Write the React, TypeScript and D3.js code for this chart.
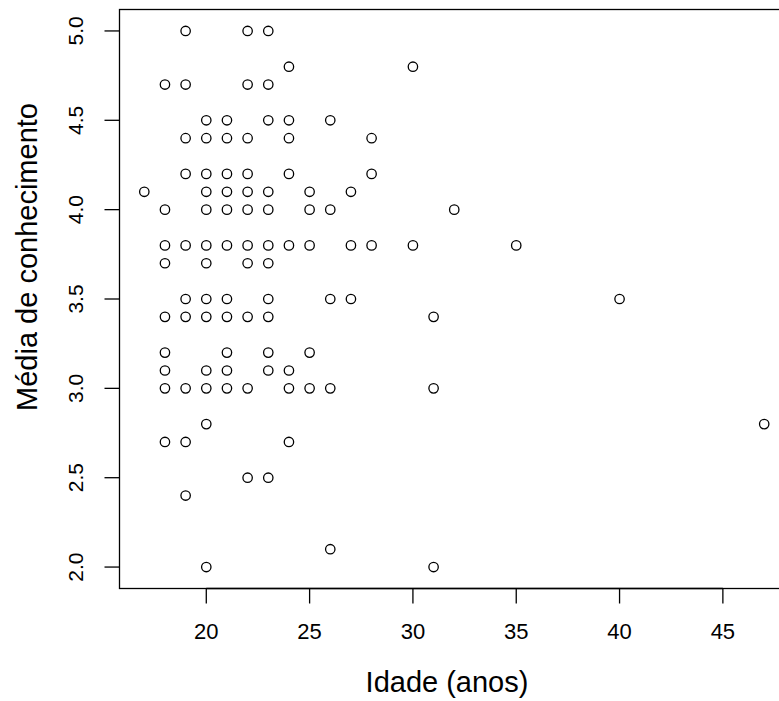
import React from "react";
import * as d3 from "d3";

const ages: number[] = [
  19, 22, 23,
  24, 30,
  18, 19, 22, 23,
  20, 21, 23, 24, 26,
  19, 20, 21, 22, 24, 28,
  19, 20, 21, 22, 24, 28,
  17, 20, 21, 22, 23, 25, 27,
  18, 20, 21, 22, 23, 25, 26, 32,
  18, 19, 20, 21, 22, 23, 24, 25, 27, 28, 30, 35,
  18, 20, 22, 23,
  19, 20, 21, 23, 26, 27, 40,
  18, 19, 20, 21, 22, 23, 31,
  18, 21, 23, 25,
  18, 20, 21, 23, 24,
  18, 19, 20, 21, 22, 24, 25, 26, 31,
  20, 47,
  18, 19, 24,
  22, 23,
  19,
  26,
  20, 31,
];

const scores: number[] = [
  5.0, 5.0, 5.0,
  4.8, 4.8,
  4.7, 4.7, 4.7, 4.7,
  4.5, 4.5, 4.5, 4.5, 4.5,
  4.4, 4.4, 4.4, 4.4, 4.4, 4.4,
  4.2, 4.2, 4.2, 4.2, 4.2, 4.2,
  4.1, 4.1, 4.1, 4.1, 4.1, 4.1, 4.1,
  4.0, 4.0, 4.0, 4.0, 4.0, 4.0, 4.0, 4.0,
  3.8, 3.8, 3.8, 3.8, 3.8, 3.8, 3.8, 3.8, 3.8, 3.8, 3.8, 3.8,
  3.7, 3.7, 3.7, 3.7,
  3.5, 3.5, 3.5, 3.5, 3.5, 3.5, 3.5,
  3.4, 3.4, 3.4, 3.4, 3.4, 3.4, 3.4,
  3.2, 3.2, 3.2, 3.2,
  3.1, 3.1, 3.1, 3.1, 3.1,
  3.0, 3.0, 3.0, 3.0, 3.0, 3.0, 3.0, 3.0, 3.0,
  2.8, 2.8,
  2.7, 2.7, 2.7,
  2.5, 2.5,
  2.4,
  2.1,
  2.0, 2.0,
];

const xTicks: number[] = [20, 25, 30, 35, 40, 45];
const yTicks: number[] = [2.0, 2.5, 3.0, 3.5, 4.0, 4.5, 5.0];

const xLabel = "Idade (anos)";
const yLabel = "Média de conhecimento";

export default function App() {
  const W = 779;
  const H = 701;
  const left = 119.5;
  const right = 789;
  const top = 9.5;
  const bottom = 588.5;

  const xMin = d3.min(ages)!;
  const xMax = d3.max(ages)!;
  const yMin = d3.min(scores)!;
  const yMax = d3.max(scores)!;
  const xPad = (xMax - xMin) * 0.04;
  const yPad = (yMax - yMin) * 0.04;

  const x = d3.scaleLinear().domain([xMin - xPad, xMax + xPad]).range([left, right]);
  const y = d3.scaleLinear().domain([yMin - yPad, yMax + yPad]).range([bottom, top]);

  const font = "'Liberation Sans', Arial, sans-serif";

  return (
    <svg
      width={W}
      height={H}
      style={{ position: "fixed", left: 0, top: 0, background: "#fff" }}
      fontFamily={font}
    >
      <rect x={0} y={0} width={W} height={H} fill="#fff" />
      <rect
        x={left}
        y={top}
        width={right - left}
        height={bottom - top}
        fill="none"
        stroke="#000"
        strokeWidth={1.3}
      />
      {/* x axis */}
      <line x1={x(xTicks[0])} x2={x(xTicks[xTicks.length - 1])} y1={bottom} y2={bottom} stroke="#000" strokeWidth={1.3} />
      {xTicks.map((t) => (
        <g key={"xt" + t}>
          <line x1={x(t)} x2={x(t)} y1={bottom} y2={bottom + 15} stroke="#000" strokeWidth={1.3} />
          <text x={x(t)} y={639} textAnchor="middle" fontSize={22} fill="#000">
            {t}
          </text>
        </g>
      ))}
      {/* y axis */}
      {yTicks.map((t) => (
        <g key={"yt" + t}>
          <line x1={left} x2={left - 15} y1={y(t)} y2={y(t)} stroke="#000" strokeWidth={1.3} />
          <text
            transform={`translate(${83},${y(t)}) rotate(-90)`}
            textAnchor="middle"
            fontSize={21}
            fill="#000"
          >
            {t.toFixed(1)}
          </text>
        </g>
      ))}
      <text x={447} y={692} textAnchor="middle" fontSize={29} fill="#000">
        {xLabel}
      </text>
      <text
        transform={`translate(${37},${257}) rotate(-90)`}
        textAnchor="middle"
        fontSize={29}
        fill="#000"
      >
        {yLabel}
      </text>
      {ages.map((a, i) => (
        <circle
          key={i}
          cx={x(a)}
          cy={y(scores[i])}
          r={4.7}
          fill="none"
          stroke="#000"
          strokeWidth={1.3}
        />
      ))}
    </svg>
  );
}
